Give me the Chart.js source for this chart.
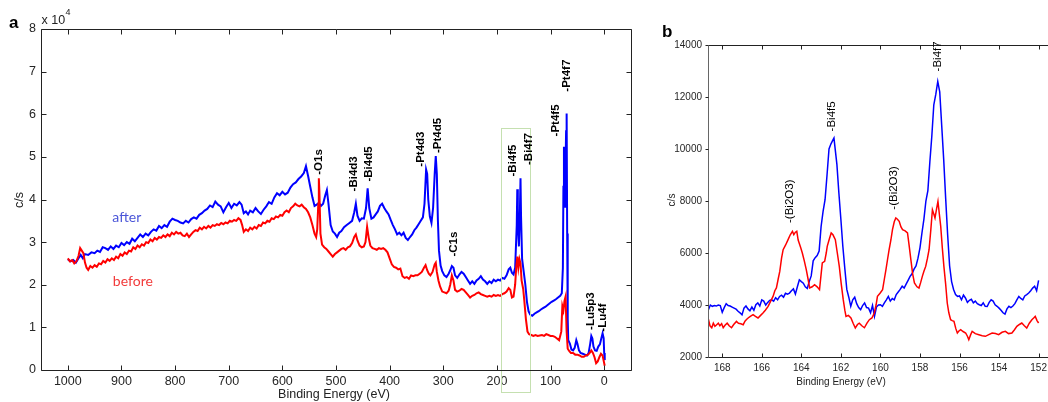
<!DOCTYPE html>
<html>
<head>
<meta charset="utf-8">
<script src="https://cdn.jsdelivr.net/npm/chart.js@4.4.1/dist/chart.umd.min.js"></script>
<style>
html, body { margin: 0; padding: 0; background: #fff; overflow: hidden; width: 1048px; height: 402px; }
#wrapA { position: absolute; left: 0; top: 0; width: 640px; height: 402px; }
#wrapB { position: absolute; left: 640px; top: 0; width: 412px; height: 402px; }
</style>
</head>
<body>
<div id="wrapA"><canvas id="survey"></canvas></div>
<div id="wrapB"><canvas id="bi4f"></canvas></div>
<script>
// ---- panel a: survey spectrum, counts in units of 10^4 c/s ----
const surveyAfterEnergy = [1000,995,990,985,980,976,972,968,962,956,950,945,940,935,930,925,920,915,910,905,900,895,890,885,880,875,870,865,860,855,850,845,840,835,830,825,820,815,810,805,800,795,790,785,780,775,770,765,760,755,750,745,740,735,730,725,720,715,710,705,700,695,690,685,680,676,672,668,664,660,655,650,645,640,635,630,625,620,615,610,605,600,595,590,585,580,575,570,565,560,556,552,548,544,540,536,532,528,524,520,517,514,510,506,502,498,494,490,485,480,475,470,466,463,460,456,452,448,444,441,438,434,430,426,422,418,414,410,406,402,398,394,390,386,382,378,374,370,366,362,358,354,350,346,342,338,335,332,330,328,325,322,319,316,314,312,310,308,305,302,298,294,290,287,284,281,278,274,270,266,262,258,254,250,246,242,238,234,230,226,222,218,214,210,206,202,198,194,190,186,182,178,175,172,169,166,163,162,161,159,157,156,155,153,150,147,144,141,138,134,130,126,122,118,114,110,106,102,98,94,90,86,82,79,77,76,75,74,73,72,71,70,69,68,67,64,61,58,55,52,50,47,44,40,36,32,29,26,24,22,20,17,14,11,8,5,3,1,0,-1];
const surveyAfterCounts = [2.60,2.55,2.58,2.52,2.62,2.70,2.62,2.72,2.70,2.76,2.74,2.80,2.77,2.88,2.86,2.82,2.90,2.84,2.92,2.88,2.98,2.93,3.00,2.96,3.08,3.02,3.10,3.18,3.12,3.20,3.16,3.24,3.30,3.27,3.38,3.33,3.40,3.36,3.48,3.55,3.52,3.50,3.46,3.44,3.50,3.46,3.54,3.58,3.55,3.64,3.68,3.74,3.78,3.86,3.82,3.95,3.88,3.84,3.70,3.82,3.92,3.80,3.90,3.86,3.94,3.88,3.68,3.72,3.65,3.74,3.70,3.80,3.72,3.66,3.76,3.84,3.94,3.90,4.05,4.15,4.10,4.18,4.12,4.16,4.28,4.36,4.40,4.48,4.54,4.62,4.78,4.55,4.30,4.05,3.85,3.88,3.92,3.85,3.90,4.10,4.22,3.90,3.40,3.25,3.20,3.12,3.22,3.26,3.35,3.40,3.45,3.50,3.70,3.90,3.62,3.50,3.56,3.55,3.80,4.26,3.80,3.55,3.58,3.65,3.72,3.85,3.90,3.80,3.72,3.65,3.52,3.40,3.30,3.18,3.22,3.16,3.22,3.10,3.05,3.12,3.18,3.28,3.34,3.42,3.50,3.58,3.90,4.70,4.60,4.00,3.60,3.45,3.80,4.60,5.02,4.60,3.50,2.80,2.45,2.32,2.22,2.18,2.26,2.34,2.44,2.40,2.22,2.16,2.24,2.30,2.26,2.18,2.10,2.02,2.08,2.02,2.10,2.14,2.20,2.12,2.08,2.02,2.08,2.04,2.12,2.08,2.12,2.10,2.16,2.14,2.22,2.36,2.40,2.28,2.24,2.40,3.40,4.24,3.50,2.90,3.80,4.50,3.60,2.60,2.30,2.00,1.60,1.38,1.30,1.27,1.32,1.35,1.38,1.42,1.45,1.48,1.52,1.56,1.60,1.63,1.66,1.70,1.74,1.80,2.40,4.30,5.24,5.00,3.83,4.80,5.60,6.02,3.20,1.20,0.70,0.62,0.48,0.46,0.52,0.70,0.62,0.46,0.40,0.38,0.36,0.34,0.40,0.62,0.80,0.74,0.55,0.46,0.45,0.55,0.60,0.76,0.86,0.75,0.40,0.23];
const surveyBeforeEnergy = [1000,996,992,988,984,980,977,974,971,968,965,962,958,954,950,946,942,938,934,930,926,922,918,914,910,906,902,898,894,890,886,882,878,874,870,866,862,858,854,850,846,842,838,834,830,826,822,818,814,810,806,802,798,794,790,786,782,778,774,770,766,762,758,754,750,746,742,738,734,730,726,722,718,714,710,706,702,698,694,690,686,682,678,675,672,668,664,660,656,652,648,644,640,636,632,628,624,620,616,612,608,604,600,596,592,588,584,580,576,572,568,564,560,556,552,548,544,540,537,535,533,532,531,529,526,522,518,514,510,506,502,498,494,490,486,482,478,474,470,466,463,460,456,452,448,445,442,439,436,432,428,424,420,416,412,408,404,400,396,392,388,384,380,376,372,368,364,360,356,352,348,344,340,336,333,330,327,324,320,316,314,312,309,306,302,298,294,290,287,284,281,278,274,270,266,262,258,254,250,246,242,238,234,230,226,222,218,214,210,206,202,198,194,190,186,182,178,175,172,169,166,164,162,160,158,156,154,151,149,146,143,140,136,132,128,124,120,116,112,108,104,100,96,92,88,84,80,78,76,74,72,70,68,65,62,58,54,50,46,42,38,34,30,27,24,21,18,15,12,9,6,3,1,-1];
const surveyBeforeCounts = [2.62,2.55,2.58,2.50,2.55,2.68,2.86,2.80,2.74,2.52,2.40,2.35,2.44,2.40,2.46,2.42,2.50,2.48,2.56,2.52,2.60,2.56,2.62,2.58,2.66,2.62,2.72,2.68,2.76,2.72,2.80,2.78,2.88,2.84,2.92,2.88,2.95,2.92,3.00,2.98,3.06,3.02,3.10,3.06,3.12,3.10,3.16,3.12,3.18,3.14,3.22,3.18,3.24,3.20,3.22,3.16,3.14,3.20,3.12,3.18,3.24,3.28,3.26,3.34,3.30,3.36,3.32,3.38,3.34,3.40,3.38,3.42,3.40,3.45,3.42,3.46,3.44,3.50,3.48,3.52,3.50,3.56,3.52,3.40,3.24,3.30,3.26,3.34,3.30,3.36,3.32,3.40,3.38,3.46,3.44,3.50,3.48,3.56,3.54,3.60,3.58,3.64,3.62,3.70,3.74,3.70,3.80,3.84,3.90,3.86,3.84,3.88,3.82,3.78,3.70,3.58,3.40,3.20,3.12,3.30,3.90,4.50,4.20,3.20,2.94,2.88,2.84,2.78,2.72,2.66,2.72,2.76,2.80,2.84,2.86,2.82,2.88,2.90,2.98,3.12,3.18,3.04,2.92,2.88,2.90,3.00,3.36,3.10,2.92,2.86,2.84,2.82,2.86,2.84,2.86,2.82,2.76,2.62,2.48,2.42,2.40,2.36,2.38,2.20,2.16,2.18,2.14,2.22,2.20,2.22,2.22,2.26,2.30,2.40,2.46,2.34,2.26,2.22,2.30,2.48,2.52,2.30,2.10,1.96,1.84,1.82,1.80,1.86,2.00,2.22,2.10,1.88,1.84,1.86,1.90,1.88,1.82,1.76,1.70,1.74,1.76,1.80,1.82,1.78,1.76,1.74,1.72,1.74,1.72,1.76,1.74,1.76,1.74,1.78,1.80,1.84,1.92,1.88,1.70,1.72,2.00,2.40,2.66,2.40,2.60,2.50,2.10,1.90,1.64,1.20,0.90,0.84,0.82,0.80,0.82,0.80,0.81,0.82,0.80,0.84,0.82,0.80,0.80,0.78,0.74,0.70,0.90,1.50,1.40,1.62,1.72,0.90,0.50,0.44,0.40,0.40,0.36,0.36,0.34,0.31,0.31,0.34,0.36,0.40,0.46,0.40,0.30,0.16,0.20,0.30,0.38,0.34,0.22,0.10];
const surveyTicksX = [1000, 900, 800, 700, 600, 500, 400, 300, 200, 100, 0];
const surveyTicksY = [0, 1, 2, 3, 4, 5, 6, 7, 8];
const surveyPeakNames = ['-O1s', '-Bi4d3', '-Bi4d5', '-Pt4d3', '-Pt4d5', '-C1s', '-Bi4f5', '-Bi4f7', '-Pt4f5', '-Pt4f7', '-Lu5p3', '-Lu4f'];
const surveyPeakEnergy = [532, 467, 439, 342, 311, 281, 170, 141, 90, 70, 25, 3];
const surveyPeakLabelAt = [4.58, 4.19, 4.42, 4.77, 5.09, 2.66, 4.54, 4.81, 5.48, 6.53, 0.94, 0.90];

// ---- panel b: Bi4f high resolution, c/s ----
const bi4fAfterEnergy = [168.70,168.60,168.50,168.40,168.30,168.20,168.10,168.00,167.90,167.80,167.70,167.60,167.50,167.40,167.30,167.20,167.10,167.00,166.90,166.80,166.70,166.60,166.50,166.40,166.30,166.20,166.10,166.00,165.90,165.80,165.70,165.60,165.50,165.40,165.30,165.20,165.10,165.00,164.90,164.80,164.70,164.60,164.50,164.40,164.30,164.20,164.10,164.00,163.90,163.80,163.70,163.60,163.50,163.40,163.30,163.20,163.10,163.00,162.90,162.80,162.70,162.60,162.50,162.40,162.35,162.20,162.10,162.00,161.90,161.80,161.70,161.60,161.50,161.40,161.30,161.20,161.10,161.00,160.90,160.80,160.70,160.60,160.50,160.40,160.30,160.20,160.10,160.00,159.90,159.80,159.70,159.60,159.50,159.40,159.30,159.20,159.10,159.00,158.90,158.80,158.70,158.60,158.50,158.40,158.30,158.20,158.10,158.00,157.90,157.80,157.70,157.60,157.50,157.40,157.30,157.20,157.10,157.00,156.90,156.80,156.70,156.60,156.50,156.40,156.30,156.20,156.10,156.00,155.90,155.80,155.70,155.60,155.50,155.40,155.30,155.20,155.10,155.00,154.90,154.80,154.70,154.60,154.50,154.40,154.30,154.20,154.10,154.00,153.90,153.80,153.70,153.60,153.50,153.40,153.30,153.20,153.10,153.00,152.90,152.80,152.70,152.60,152.50,152.40,152.30,152.20,152.10,152.00];
const bi4fAfterCounts = [3820,4000,3950,3980,3960,4000,3980,3720,3900,4050,3980,3960,3920,3880,3840,3760,3700,3620,3880,3960,3850,3780,3920,3800,4010,4080,3960,4200,4150,4000,4100,4180,4200,4150,4280,4200,4330,4380,4300,4450,4420,4460,4550,4620,4420,4700,4970,4900,4840,4700,4640,4900,5120,5700,5820,5900,6070,7020,7600,8050,9000,10000,10200,10350,10420,9400,8300,7300,6250,5400,4600,4300,3950,4200,4300,4050,3900,3820,3980,4080,3900,3880,3700,3980,3560,3920,4000,4010,3950,4080,4200,4330,4150,4250,4200,4400,4500,4600,4720,4650,4800,4950,5100,5200,5380,5500,5800,6200,6770,7300,8000,8400,9500,10500,11700,12100,12600,12200,10900,9600,8100,6700,5500,4900,4600,4400,4330,4350,4200,4380,4270,4100,4180,4220,4080,4150,4050,4010,3980,4080,3950,3940,4100,4200,4150,4010,3950,3880,3800,3700,3650,3850,3950,3900,3960,4050,4200,4330,4250,4200,4350,4400,4460,4550,4650,4720,4550,4950];
const bi4fBeforeEnergy = [168.70,168.62,168.53,168.45,168.37,168.28,168.20,168.12,168.03,167.95,167.86,167.75,167.65,167.53,167.42,167.28,167.18,167.06,166.94,166.85,166.76,166.69,166.58,166.44,166.32,166.19,166.06,165.94,165.82,165.68,165.55,165.43,165.34,165.26,165.17,165.09,165.00,164.92,164.80,164.67,164.56,164.45,164.38,164.30,164.23,164.16,164.11,164.03,163.95,163.85,163.75,163.66,163.58,163.45,163.33,163.20,163.08,162.94,162.82,162.74,162.69,162.58,162.49,162.40,162.28,162.18,162.08,161.98,161.88,161.80,161.74,161.62,161.49,161.38,161.27,161.16,161.07,160.94,160.81,160.68,160.56,160.43,160.31,160.22,160.15,160.02,159.89,159.80,159.72,159.64,159.56,159.47,159.39,159.30,159.22,159.14,159.05,158.96,158.88,158.75,158.63,158.55,158.46,158.37,158.28,158.15,158.05,157.97,157.88,157.80,157.71,157.62,157.54,157.45,157.37,157.30,157.24,157.16,157.09,157.02,156.95,156.87,156.79,156.70,156.62,156.54,156.45,156.37,156.28,156.19,156.11,156.03,155.94,155.82,155.69,155.60,155.53,155.44,155.36,155.20,155.02,154.85,154.69,154.52,154.35,154.18,154.02,153.85,153.68,153.52,153.35,153.22,153.10,152.97,152.85,152.72,152.60,152.47,152.34,152.25,152.17,152.08,152.00];
const bi4fBeforeCounts = [3450,3200,3125,3300,3180,3243,3300,3200,3280,3125,3220,3300,3200,3125,3250,3370,3300,3280,3243,3380,3450,3500,3560,3627,3560,3500,3600,3692,3800,3947,4150,4331,4550,4654,5000,5293,5800,6127,6300,6515,6700,6835,6706,6800,6835,6500,6386,6200,6000,5700,5358,5000,4654,4700,4782,4700,4589,5615,5680,6000,6254,6550,6770,6700,6512,6000,5485,4800,4204,3800,3562,3600,3500,3300,3115,3250,3300,3200,3125,3300,3435,3500,3692,4000,4331,4450,4589,5000,5358,5750,6127,6500,6896,7200,7346,7300,7220,7000,6896,6850,6770,6300,5742,5200,4846,4700,4654,4850,5100,5300,5485,5800,6127,6900,7665,7500,7346,7700,7985,7500,7023,6200,5485,4800,4077,3700,3435,3400,3370,3100,2923,3000,3050,2980,2923,2800,2667,2850,2988,2900,2858,2820,2795,2860,2923,2900,2858,2950,2985,2900,2923,3050,3178,3250,3305,3200,3115,3300,3435,3500,3562,3400,3307];
const bi4fTicksX = [168, 166, 164, 162, 160, 158, 156, 154, 152];
const bi4fTicksY = [2000, 4000, 6000, 8000, 10000, 12000, 14000];
const bi4fPeakNames = ['-(Bi2O3)', '-Bi4f5', '-(Bi2O3)', '-Bi4f7'];
const bi4fPeakEnergy = [164.56, 162.45, 159.30, 157.09];
const bi4fPeakLabelAt = [7154, 10677, 7666, 12985];

const SANS = '"Liberation Sans", Arial, sans-serif';
const toPoints = (xs, ys) => xs.map((v, i) => ({ x: v, y: ys[i] }));

// frame, inward ticks, rotated peak labels and the other texts
const decorPlugin = {
    id: 'decor',
    afterDatasetsDraw(chart, args, o) {
        const { ctx, chartArea: a, scales: { x, y } } = chart;
        const L = Math.round(a.left) + 0.5, R = Math.round(a.right) + 0.5;
        const T = Math.round(a.top) + 0.5, B = Math.round(a.bottom) + 0.5;
        ctx.save();

        if (o.box) {
            ctx.strokeStyle = '#c5e0b0';
            ctx.lineWidth = 1;
            const x1 = Math.round(x.getPixelForValue(o.box.from)) + 0.5;
            const x2 = Math.round(x.getPixelForValue(o.box.to)) + 0.5;
            const y1 = Math.round(y.getPixelForValue(o.box.top)) + 0.5;
            ctx.strokeRect(x1, y1, x2 - x1, B + o.box.below - y1);
        }

        // axes lines
        ctx.lineWidth = 1;
        ctx.strokeStyle = o.frameColor;
        ctx.beginPath();
        ctx.moveTo(L, T); ctx.lineTo(R, T);
        ctx.moveTo(L, B); ctx.lineTo(R, B);
        if (o.fullBox) { ctx.moveTo(R, T); ctx.lineTo(R, B); }
        ctx.stroke();
        ctx.strokeStyle = o.leftAxisColor;
        ctx.beginPath(); ctx.moveTo(L, T); ctx.lineTo(L, B); ctx.stroke();

        ctx.strokeStyle = o.frameColor;
        ctx.beginPath();
        x.ticks.forEach(t => {
            const px = Math.round(x.getPixelForValue(t.value)) + 0.5;
            ctx.moveTo(px, B); ctx.lineTo(px, B - o.tick);
            ctx.moveTo(px, T); ctx.lineTo(px, T + o.tick);
        });
        y.ticks.forEach(t => {
            const py = Math.round(y.getPixelForValue(t.value)) + 0.5;
            if (o.fullBox) {
                ctx.moveTo(L, py); ctx.lineTo(L + o.tick, py);
                ctx.moveTo(R, py); ctx.lineTo(R - o.tick, py);
            } else {
                ctx.moveTo(L, py); ctx.lineTo(L - 3, py);
            }
        });
        ctx.stroke();

        // peak labels, written upward from the given point
        ctx.fillStyle = '#000';
        ctx.font = o.peakFont;
        ctx.textAlign = 'left';
        ctx.textBaseline = 'middle';
        o.peaks.names.forEach((name, i) => {
            ctx.save();
            ctx.translate(x.getPixelForValue(o.peaks.energy[i]), y.getPixelForValue(o.peaks.at[i]));
            ctx.rotate(-Math.PI / 2);
            ctx.fillText(name, 0, 0);
            ctx.restore();
        });

        (o.notes || []).forEach(n => {
            ctx.fillStyle = n.color;
            ctx.font = n.font;
            ctx.textAlign = 'left';
            ctx.textBaseline = 'middle';
            ctx.fillText(n.text, x.getPixelForValue(n.e), y.getPixelForValue(n.v));
        });

        // axis titles and panel letter
        ctx.fillStyle = '#222';
        ctx.font = o.titleFont;
        ctx.textAlign = 'center';
        ctx.textBaseline = 'middle';
        ctx.fillText('Binding Energy (eV)', o.xTitle[0], o.xTitle[1]);
        ctx.save();
        ctx.translate(o.yTitle[0], o.yTitle[1]);
        ctx.rotate(-Math.PI / 2);
        ctx.fillText('c/s', 0, 0);
        ctx.restore();

        ctx.fillStyle = '#000';
        ctx.font = 'bold 17px ' + SANS;
        ctx.textAlign = 'left';
        ctx.textBaseline = 'alphabetic';
        ctx.fillText(o.letter[0], o.letter[1], o.letter[2]);

        if (o.exponent) {
            ctx.fillStyle = '#222';
            ctx.font = '12.5px ' + SANS;
            ctx.fillText('x 10', L, 24);
            ctx.font = '9px ' + SANS;
            ctx.fillText('4', L + 24, 15);
        }
        ctx.restore();
    }
};

function axisOptions(ticks, min, max, reverse, tickFont, pad, fit) {
    return {
        type: 'linear', min: min, max: max, reverse: reverse,
        grid: { display: false, drawTicks: false },
        border: { display: false },
        afterBuildTicks: s => { s.ticks = ticks.map(v => ({ value: v })); },
        afterFit: fit,
        ticks: {
            color: '#262626', font: { family: SANS, size: tickFont }, padding: pad,
            maxRotation: 0, autoSkip: false, callback: v => String(v)
        }
    };
}

new Chart(document.getElementById('survey'), {
    type: 'line',
    data: {
        datasets: [
            { label: 'before', data: toPoints(surveyBeforeEnergy, surveyBeforeCounts), borderColor: '#ff0000', borderWidth: 2, pointRadius: 0, tension: 0 },
            { label: 'after', data: toPoints(surveyAfterEnergy, surveyAfterCounts), borderColor: '#0000ff', borderWidth: 2, pointRadius: 0, tension: 0 }
        ]
    },
    options: {
        responsive: true, maintainAspectRatio: false, animation: false,
        layout: { padding: { top: 29, right: 9, left: 0, bottom: 0 } },
        scales: {
            x: axisOptions(surveyTicksX, -50, 1050, true, 12.5, 4, s => { s.height = 32; }),
            y: axisOptions(surveyTicksY, 0, 8, false, 12.5, 5, s => { s.width = 41; })
        },
        plugins: {
            legend: { display: false },
            tooltip: { enabled: false },
            decor: {
                fullBox: true, frameColor: '#222', leftAxisColor: '#222', tick: 5,
                peakFont: 'bold 11.5px ' + SANS, titleFont: '12.5px ' + SANS,
                peaks: { names: surveyPeakNames, energy: surveyPeakEnergy, at: surveyPeakLabelAt },
                box: { from: 193, to: 138, top: 5.68, below: 22 },
                notes: [
                    { text: 'after', e: 917, v: 3.57, color: '#4a55d8', font: '14px Lato, sans-serif' },
                    { text: 'before', e: 916, v: 2.07, color: '#f23a3a', font: '14px Lato, sans-serif' }
                ],
                xTitle: [334, 395], yTitle: [20, 200], letter: ['a', 9, 28], exponent: true
            }
        }
    },
    plugins: [decorPlugin]
});

new Chart(document.getElementById('bi4f'), {
    type: 'line',
    data: {
        datasets: [
            { label: 'before', data: toPoints(bi4fBeforeEnergy, bi4fBeforeCounts), borderColor: '#ff0000', borderWidth: 1.5, pointRadius: 0, tension: 0 },
            { label: 'after', data: toPoints(bi4fAfterEnergy, bi4fAfterCounts), borderColor: '#0000ff', borderWidth: 1.5, pointRadius: 0, tension: 0 }
        ]
    },
    options: {
        responsive: true, maintainAspectRatio: false, animation: false,
        layout: { padding: { top: 45, right: 2, left: 0, bottom: 0 } },
        scales: {
            x: axisOptions(bi4fTicksX, 151.5, 168.72, true, 10, 5, s => { s.height = 45; }),
            y: axisOptions(bi4fTicksY, 2000, 14000, false, 10, 6, s => { s.width = 68; })
        },
        plugins: {
            legend: { display: false },
            tooltip: { enabled: false },
            decor: {
                fullBox: false, frameColor: '#222', leftAxisColor: '#666', tick: 4,
                peakFont: '11.5px ' + SANS, titleFont: '10px ' + SANS,
                peaks: { names: bi4fPeakNames, energy: bi4fPeakEnergy, at: bi4fPeakLabelAt },
                xTitle: [201, 382], yTitle: [32, 200], letter: ['b', 22, 37], exponent: false
            }
        }
    },
    plugins: [decorPlugin]
});
</script>
</body>
</html>
